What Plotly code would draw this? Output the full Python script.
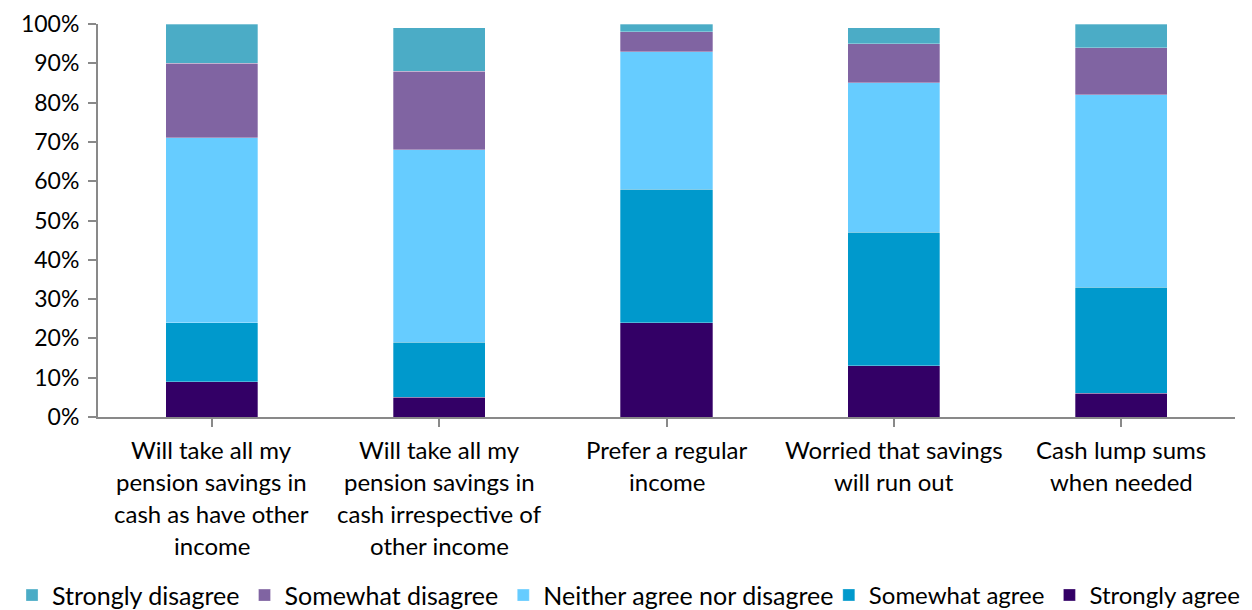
import plotly.graph_objects as go

categories = [
    "Will take all my<br>pension savings in<br>cash as have other<br>income",
    "Will take all my<br>pension savings in<br>cash irrespective of<br>other income",
    "Prefer a regular<br>income",
    "Worried that savings<br>will run out",
    "Cash lump sums<br>when needed",
]
strongly_agree = [9, 5, 24, 13, 6]
somewhat_agree = [15, 14, 34, 34, 27]
neither = [47, 49, 35, 38, 49]
somewhat_disagree = [19, 20, 5, 10, 12]
strongly_disagree = [10, 11, 2, 4, 6]

series = [
    ("Strongly agree", strongly_agree, "#330066", "legend2"),
    ("Somewhat agree", somewhat_agree, "#0099CC", "legend2"),
    ("Neither agree nor disagree", neither, "#66CCFF", "legend"),
    ("Somewhat disagree", somewhat_disagree, "#8064A2", "legend"),
    ("Strongly disagree", strongly_disagree, "#4BACC6", "legend"),
]

FONT = "Lato"
xs = list(range(len(categories)))

fig = go.Figure()
for name, vals, col, leg in series:
    fig.add_trace(go.Bar(
        x=xs, y=vals, name=name, marker_color=col, legend=leg,
        marker_line_color="rgba(255,255,255,0.5)", marker_line_width=0.6,
    ))

for i, lab in enumerate(categories):
    for j, line in enumerate(lab.split("<br>")):
        fig.add_annotation(
            x=i, y=0, xref="x", yref="y", text=line, showarrow=False,
            yanchor="middle", xanchor="center", yshift=-32 - 32.3 * j,
            font=dict(family=FONT, size=24, color="#000000"),
        )

leg_common = dict(
    orientation="h", traceorder="reversed",
    xref="container", yref="container",
    xanchor="left", y=0.024, yanchor="middle",
    itemwidth=30, tracegroupgap=0, bgcolor="rgba(0,0,0,0)",
)

fig.update_layout(
    width=1252, height=610,
    barmode="stack", bargap=0.595,
    plot_bgcolor="white", paper_bgcolor="white",
    margin=dict(l=98, r=17, t=24, b=193, autoexpand=False),
    font=dict(family=FONT, size=23, color="#000000"),
    legend=dict(x=0.0096, font=dict(family=FONT, size=25, color="#000000"), **leg_common),
    legend2=dict(x=0.662, font=dict(family=FONT, size=24, color="#000000"), **leg_common),
    showlegend=True,
)
fig.update_xaxes(
    range=[-0.5, len(categories) - 0.5],
    tickmode="array", tickvals=xs, ticktext=[""] * len(xs),
    showticklabels=False,
    tickson="boundaries", ticks="outside", ticklen=8, tickcolor="#898989", tickwidth=2,
    showline=True, linecolor="#898989", linewidth=2, showgrid=False, zeroline=False,
)
fig.update_yaxes(
    range=[0, 100], tickvals=list(range(0, 101, 10)),
    ticktext=[f"{v}%" for v in range(0, 101, 10)],
    ticks="outside", ticklen=8, tickcolor="#898989", tickwidth=2,
    showline=True, linecolor="#898989", linewidth=2, showgrid=False, zeroline=False,
    tickfont=dict(family=FONT, size=23), ticklabelstandoff=4,
)

fig.write_html("out.html")
